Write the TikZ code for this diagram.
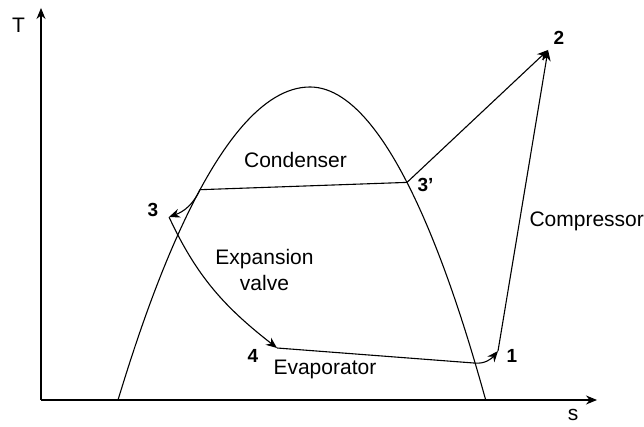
\documentclass[tikz,border=0pt]{standalone}
\usepackage{fontspec}
\setmainfont{Liberation Sans}
\usetikzlibrary{arrows.meta}

\tikzset{
	lbl/.style={font=\fontsize{21}{26}\selectfont, inner sep=0pt, anchor=base},
	pnt/.style={font=\fontsize{19}{21}\selectfont\bfseries, inner sep=0pt, anchor=base},
	flow/.style={-{Stealth[length=11pt,width=9pt]}}
}

\begin{document}
\begin{tikzpicture}[x=10pt,y=10pt,line width=1.1pt]
			\useasboundingbox (-4.1,-2.7) rectangle (60.3,40);
			\coordinate (O) at (0,0);
			\coordinate (Tend) at (0,39.2);
			\coordinate (Send) at (55.6,0);
			\coordinate (L) at (7.7,0);
			\coordinate (Top) at (26.9,31.3);
			\coordinate (R) at (44.47,0);
			\coordinate (A) at (15.9,21.03);
			\coordinate (B) at (43.4,3.69);
			\coordinate (P1) at (45.7,4.9);
			\coordinate (P2) at (50.7,35.0);
			\coordinate (P3) at (12.8,18.3);
			\coordinate (P3p) at (36.6,21.76);
			\coordinate (P4) at (23.6,5.2);

			% axes
			\draw[flow] (O) -- (Tend);
			\draw[flow] (O) -- (Send);
			\node[lbl] (T) at (-2.25,36.7) {T};
			\node[lbl] (s) at (53.2,-2.1) {s};

			% saturation dome
			\draw (L) parabola bend (Top) (R);

			% cycle
			\draw (A) -- (P3p);
			\draw[flow] (A) to[out=-115,in=20] (P3);
			\draw[flow] (P3) to[out=-65,in=142] (P4);
			\draw[flow] (P4) -- (B) to[out=-5,in=-130] (P1);
			\draw[flow] (P1) -- (P2);
			\draw[flow] (P3p) -- (P2);

			\node[pnt] (l1) at (47.1,3.7) {1};
			\node[pnt] (l2) at (51.8,35.5) {2};
			\node[pnt] (l3) at (11.2,18.3) {3};
			\node[pnt, anchor=base west] (l3p) at (37.6,20.8) {3'};
			\node[pnt] (l4) at (21.2,3.7) {4};

			\node[lbl] (cond) at (25.45,23.2) {Condenser};
			\node[lbl, align=center] (exp) at (22.35,10.9) {Expansion\\valve};
			\node[lbl, anchor=base west] (comp) at (48.8,17.3) {Compressor};
			\node[lbl, anchor=base west] (evap) at (23.2,2.5) {Evaporator};
		\end{tikzpicture}
\end{document}
